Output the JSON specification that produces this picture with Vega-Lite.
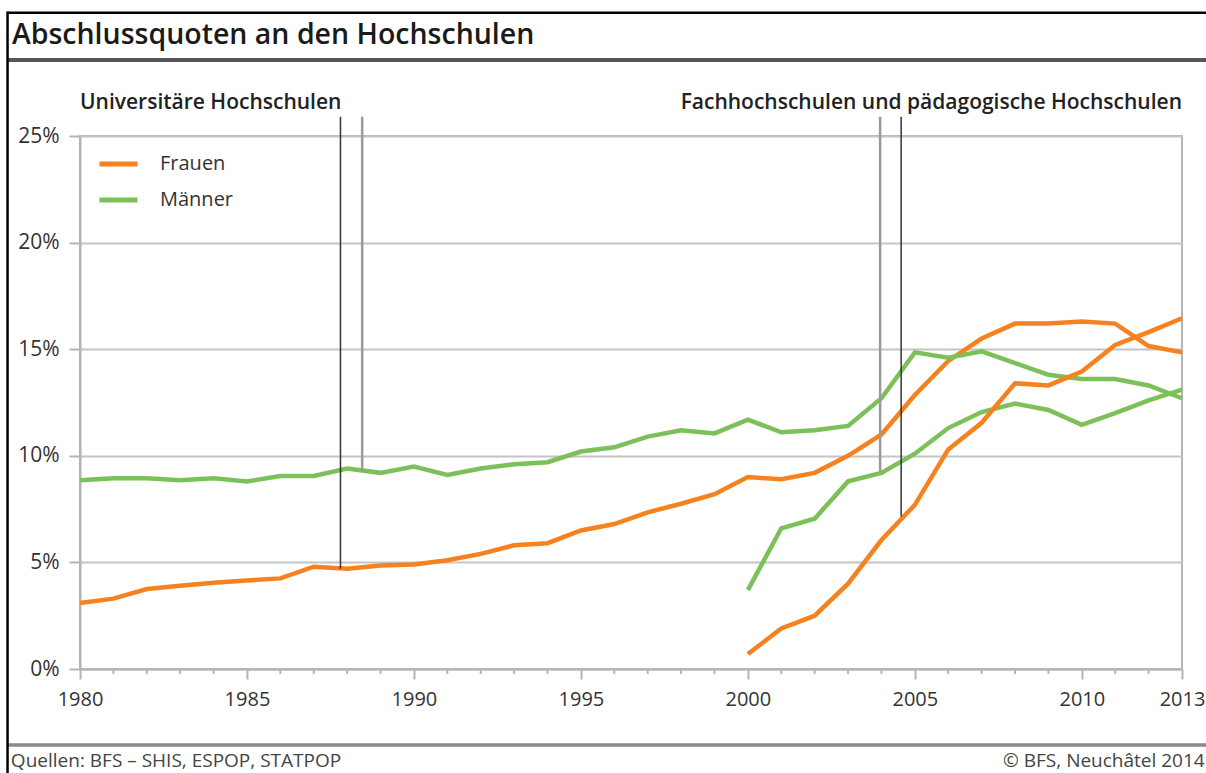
{
  "$schema": "https://vega.github.io/schema/vega-lite/v6.json",
  "autosize": "none",
  "width": 1102,
  "height": 533,
  "padding": {"left": 80, "top": 136, "right": 24, "bottom": 104},
  "background": "white",
  "config": {
    "font": "Open Sans",
    "view": {"stroke": "#b4b4b4", "strokeWidth": 2}
  },
  "datasets": {
    "series": [
      {"year": 1980, "value": 3.1, "sex": "Frauen", "type": "Uni"},
      {"year": 1981, "value": 3.3, "sex": "Frauen", "type": "Uni"},
      {"year": 1982, "value": 3.75, "sex": "Frauen", "type": "Uni"},
      {"year": 1983, "value": 3.9, "sex": "Frauen", "type": "Uni"},
      {"year": 1984, "value": 4.05, "sex": "Frauen", "type": "Uni"},
      {"year": 1985, "value": 4.15, "sex": "Frauen", "type": "Uni"},
      {"year": 1986, "value": 4.25, "sex": "Frauen", "type": "Uni"},
      {"year": 1987, "value": 4.8, "sex": "Frauen", "type": "Uni"},
      {"year": 1988, "value": 4.7, "sex": "Frauen", "type": "Uni"},
      {"year": 1989, "value": 4.85, "sex": "Frauen", "type": "Uni"},
      {"year": 1990, "value": 4.9, "sex": "Frauen", "type": "Uni"},
      {"year": 1991, "value": 5.1, "sex": "Frauen", "type": "Uni"},
      {"year": 1992, "value": 5.4, "sex": "Frauen", "type": "Uni"},
      {"year": 1993, "value": 5.8, "sex": "Frauen", "type": "Uni"},
      {"year": 1994, "value": 5.9, "sex": "Frauen", "type": "Uni"},
      {"year": 1995, "value": 6.5, "sex": "Frauen", "type": "Uni"},
      {"year": 1996, "value": 6.8, "sex": "Frauen", "type": "Uni"},
      {"year": 1997, "value": 7.35, "sex": "Frauen", "type": "Uni"},
      {"year": 1998, "value": 7.75, "sex": "Frauen", "type": "Uni"},
      {"year": 1999, "value": 8.2, "sex": "Frauen", "type": "Uni"},
      {"year": 2000, "value": 9.0, "sex": "Frauen", "type": "Uni"},
      {"year": 2001, "value": 8.9, "sex": "Frauen", "type": "Uni"},
      {"year": 2002, "value": 9.2, "sex": "Frauen", "type": "Uni"},
      {"year": 2003, "value": 10.0, "sex": "Frauen", "type": "Uni"},
      {"year": 2004, "value": 11.0, "sex": "Frauen", "type": "Uni"},
      {"year": 2005, "value": 12.85, "sex": "Frauen", "type": "Uni"},
      {"year": 2006, "value": 14.45, "sex": "Frauen", "type": "Uni"},
      {"year": 2007, "value": 15.5, "sex": "Frauen", "type": "Uni"},
      {"year": 2008, "value": 16.2, "sex": "Frauen", "type": "Uni"},
      {"year": 2009, "value": 16.2, "sex": "Frauen", "type": "Uni"},
      {"year": 2010, "value": 16.3, "sex": "Frauen", "type": "Uni"},
      {"year": 2011, "value": 16.2, "sex": "Frauen", "type": "Uni"},
      {"year": 2012, "value": 15.15, "sex": "Frauen", "type": "Uni"},
      {"year": 2013, "value": 14.85, "sex": "Frauen", "type": "Uni"},
      {"year": 1980, "value": 8.85, "sex": "Männer", "type": "Uni"},
      {"year": 1981, "value": 8.95, "sex": "Männer", "type": "Uni"},
      {"year": 1982, "value": 8.95, "sex": "Männer", "type": "Uni"},
      {"year": 1983, "value": 8.85, "sex": "Männer", "type": "Uni"},
      {"year": 1984, "value": 8.95, "sex": "Männer", "type": "Uni"},
      {"year": 1985, "value": 8.8, "sex": "Männer", "type": "Uni"},
      {"year": 1986, "value": 9.05, "sex": "Männer", "type": "Uni"},
      {"year": 1987, "value": 9.05, "sex": "Männer", "type": "Uni"},
      {"year": 1988, "value": 9.4, "sex": "Männer", "type": "Uni"},
      {"year": 1989, "value": 9.2, "sex": "Männer", "type": "Uni"},
      {"year": 1990, "value": 9.5, "sex": "Männer", "type": "Uni"},
      {"year": 1991, "value": 9.1, "sex": "Männer", "type": "Uni"},
      {"year": 1992, "value": 9.4, "sex": "Männer", "type": "Uni"},
      {"year": 1993, "value": 9.6, "sex": "Männer", "type": "Uni"},
      {"year": 1994, "value": 9.7, "sex": "Männer", "type": "Uni"},
      {"year": 1995, "value": 10.2, "sex": "Männer", "type": "Uni"},
      {"year": 1996, "value": 10.4, "sex": "Männer", "type": "Uni"},
      {"year": 1997, "value": 10.9, "sex": "Männer", "type": "Uni"},
      {"year": 1998, "value": 11.2, "sex": "Männer", "type": "Uni"},
      {"year": 1999, "value": 11.05, "sex": "Männer", "type": "Uni"},
      {"year": 2000, "value": 11.7, "sex": "Männer", "type": "Uni"},
      {"year": 2001, "value": 11.1, "sex": "Männer", "type": "Uni"},
      {"year": 2002, "value": 11.2, "sex": "Männer", "type": "Uni"},
      {"year": 2003, "value": 11.4, "sex": "Männer", "type": "Uni"},
      {"year": 2004, "value": 12.7, "sex": "Männer", "type": "Uni"},
      {"year": 2005, "value": 14.85, "sex": "Männer", "type": "Uni"},
      {"year": 2006, "value": 14.6, "sex": "Männer", "type": "Uni"},
      {"year": 2007, "value": 14.9, "sex": "Männer", "type": "Uni"},
      {"year": 2008, "value": 14.35, "sex": "Männer", "type": "Uni"},
      {"year": 2009, "value": 13.8, "sex": "Männer", "type": "Uni"},
      {"year": 2010, "value": 13.6, "sex": "Männer", "type": "Uni"},
      {"year": 2011, "value": 13.6, "sex": "Männer", "type": "Uni"},
      {"year": 2012, "value": 13.3, "sex": "Männer", "type": "Uni"},
      {"year": 2013, "value": 12.7, "sex": "Männer", "type": "Uni"},
      {"year": 2000, "value": 3.7, "sex": "Männer", "type": "FH"},
      {"year": 2001, "value": 6.6, "sex": "Männer", "type": "FH"},
      {"year": 2002, "value": 7.05, "sex": "Männer", "type": "FH"},
      {"year": 2003, "value": 8.8, "sex": "Männer", "type": "FH"},
      {"year": 2004, "value": 9.2, "sex": "Männer", "type": "FH"},
      {"year": 2005, "value": 10.1, "sex": "Männer", "type": "FH"},
      {"year": 2006, "value": 11.3, "sex": "Männer", "type": "FH"},
      {"year": 2007, "value": 12.05, "sex": "Männer", "type": "FH"},
      {"year": 2008, "value": 12.45, "sex": "Männer", "type": "FH"},
      {"year": 2009, "value": 12.15, "sex": "Männer", "type": "FH"},
      {"year": 2010, "value": 11.45, "sex": "Männer", "type": "FH"},
      {"year": 2011, "value": 12.0, "sex": "Männer", "type": "FH"},
      {"year": 2012, "value": 12.6, "sex": "Männer", "type": "FH"},
      {"year": 2013, "value": 13.1, "sex": "Männer", "type": "FH"},
      {"year": 2000, "value": 0.7, "sex": "Frauen", "type": "FH"},
      {"year": 2001, "value": 1.9, "sex": "Frauen", "type": "FH"},
      {"year": 2002, "value": 2.5, "sex": "Frauen", "type": "FH"},
      {"year": 2003, "value": 4.0, "sex": "Frauen", "type": "FH"},
      {"year": 2004, "value": 6.05, "sex": "Frauen", "type": "FH"},
      {"year": 2005, "value": 7.7, "sex": "Frauen", "type": "FH"},
      {"year": 2006, "value": 10.3, "sex": "Frauen", "type": "FH"},
      {"year": 2007, "value": 11.55, "sex": "Frauen", "type": "FH"},
      {"year": 2008, "value": 13.4, "sex": "Frauen", "type": "FH"},
      {"year": 2009, "value": 13.3, "sex": "Frauen", "type": "FH"},
      {"year": 2010, "value": 13.95, "sex": "Frauen", "type": "FH"},
      {"year": 2011, "value": 15.2, "sex": "Frauen", "type": "FH"},
      {"year": 2012, "value": 15.8, "sex": "Frauen", "type": "FH"},
      {"year": 2013, "value": 16.45, "sex": "Frauen", "type": "FH"}
    ],
    "years": [
      {"year": 1981}, {"year": 1982}, {"year": 1983}, {"year": 1984},
      {"year": 1986}, {"year": 1987}, {"year": 1988}, {"year": 1989},
      {"year": 1991}, {"year": 1992}, {"year": 1993}, {"year": 1994},
      {"year": 1996}, {"year": 1997}, {"year": 1998}, {"year": 1999},
      {"year": 2001}, {"year": 2002}, {"year": 2003}, {"year": 2004},
      {"year": 2006}, {"year": 2007}, {"year": 2008}, {"year": 2009},
      {"year": 2011}, {"year": 2012}
    ],
    "leaders": [
      {"x": 1987.8, "from": 4.7, "to": 25.9, "kind": "dark"},
      {"x": 1988.45, "from": 9.25, "to": 25.9, "kind": "light"},
      {"x": 2003.96, "from": 9.25, "to": 25.9, "kind": "light"},
      {"x": 2004.59, "from": 7.15, "to": 25.9, "kind": "dark"}
    ]
  },
  "layer": [
    {
      "data": {"name": "series"},
      "mark": {"type": "line", "strokeWidth": 4.5, "strokeJoin": "miter", "clip": false},
      "encoding": {
        "x": {
          "field": "year", "type": "quantitative",
          "scale": {"domain": [1980, 2013], "nice": false, "zero": false},
          "axis": {
            "title": null,
            "values": [1980, 1985, 1990, 1995, 2000, 2005, 2010, 2013],
            "format": "d",
            "tickSize": 10,
            "labelOverlap": false,
            "labelFlush": false,
            "grid": false,
            "labelPadding": 10,
            "labelFontSize": 20,
            "labelColor": "#333333",
            "labelFont": "Open Sans",
            "domainColor": "#b4b4b4",
            "domainWidth": 2,
            "tickColor": "#b4b4b4",
            "tickWidth": 2
          }
        },
        "y": {
          "field": "value", "type": "quantitative",
          "scale": {"domain": [0, 25], "nice": false},
          "axis": {
            "title": null,
            "values": [0, 5, 10, 15, 20, 25],
            "labelExpr": "datum.value + '%'",
            "grid": true,
            "gridColor": "#c4c4c4",
            "gridWidth": 2,
            "tickSize": 11,
            "labelPadding": 10,
            "labelFontSize": 21,
            "labelColor": "#333333",
            "labelFont": "Open Sans",
            "domainColor": "#b4b4b4",
            "domainWidth": 2,
            "tickColor": "#b4b4b4",
            "tickWidth": 2
          }
        },
        "color": {
          "field": "sex", "type": "nominal",
          "scale": {"domain": ["Frauen", "Männer"], "range": ["#f5821f", "#7cc05a"]},
          "legend": {
            "title": null,
            "orient": "none",
            "legendX": 17,
            "legendY": 18,
            "symbolType": "stroke",
            "symbolStrokeWidth": 5,
            "symbolSize": 1444,
            "clipHeight": 20,
            "rowPadding": 16,
            "padding": 0,
            "labelFontSize": 20,
            "labelColor": "#333333",
            "labelFont": "Open Sans",
            "labelOffset": 20
          }
        },
        "detail": {"field": "type", "type": "nominal"}
      }
    },
    {
      "data": {"name": "years"},
      "mark": {"type": "tick", "orient": "vertical", "size": 5, "thickness": 2, "color": "#b4b4b4", "opacity": 1},
      "encoding": {
        "x": {"field": "year", "type": "quantitative", "scale": {"domain": [1980, 2013], "nice": false, "zero": false}},
        "y": {"datum": -0.12, "type": "quantitative", "scale": {"domain": [0, 25], "nice": false}}
      }
    },
    {
      "data": {"name": "leaders"},
      "transform": [{"filter": "datum.kind === 'light'"}],
      "mark": {"type": "rule", "color": "#9a9a9a", "strokeWidth": 2.5},
      "encoding": {
        "x": {"field": "x", "type": "quantitative", "scale": {"domain": [1980, 2013], "nice": false, "zero": false}},
        "y": {"field": "from", "type": "quantitative", "scale": {"domain": [0, 25], "nice": false}},
        "y2": {"field": "to"}
      }
    },
    {
      "data": {"name": "leaders"},
      "transform": [{"filter": "datum.kind === 'dark'"}],
      "mark": {"type": "rule", "color": "#333333", "strokeWidth": 1.5},
      "encoding": {
        "x": {"field": "x", "type": "quantitative", "scale": {"domain": [1980, 2013], "nice": false, "zero": false}},
        "y": {"field": "from", "type": "quantitative", "scale": {"domain": [0, 25], "nice": false}},
        "y2": {"field": "to"}
      }
    },
    {
      "data": {"values": [{}]},
      "mark": {"type": "text", "align": "left", "baseline": "alphabetic", "font": "Open Sans", "fontWeight": 600, "fontSize": 21, "color": "#222222"},
      "encoding": {
        "x": {"datum": 1980, "type": "quantitative", "scale": {"domain": [1980, 2013], "nice": false, "zero": false}},
        "y": {"datum": 26.25, "type": "quantitative", "scale": {"domain": [0, 25], "nice": false}},
        "text": {"value": "Universitäre Hochschulen"}
      }
    },
    {
      "data": {"values": [{}]},
      "mark": {"type": "text", "align": "right", "baseline": "alphabetic", "font": "Open Sans", "fontWeight": 600, "fontSize": 21, "color": "#222222"},
      "encoding": {
        "x": {"datum": 2013, "type": "quantitative", "scale": {"domain": [1980, 2013], "nice": false, "zero": false}},
        "y": {"datum": 26.25, "type": "quantitative", "scale": {"domain": [0, 25], "nice": false}},
        "text": {"value": "Fachhochschulen und pädagogische Hochschulen"}
      }
    },
    {
      "data": {"values": [{}]},
      "mark": {"type": "text", "align": "left", "baseline": "alphabetic", "font": "Open Sans", "fontWeight": 600, "fontSize": 28.5, "color": "#1a1a1a"},
      "encoding": {
        "x": {"datum": 1977.96, "type": "quantitative", "scale": {"domain": [1980, 2013], "nice": false, "zero": false}},
        "y": {"datum": 29.3, "type": "quantitative", "scale": {"domain": [0, 25], "nice": false}},
        "text": {"value": "Abschlussquoten an den Hochschulen"}
      }
    },
    {
      "data": {"values": [{}]},
      "mark": {"type": "text", "align": "left", "baseline": "alphabetic", "font": "Open Sans", "fontSize": 19, "color": "#444444"},
      "encoding": {
        "x": {"datum": 1977.93, "type": "quantitative", "scale": {"domain": [1980, 2013], "nice": false, "zero": false}},
        "y": {"datum": -4.6, "type": "quantitative", "scale": {"domain": [0, 25], "nice": false}},
        "text": {"value": "Quellen: BFS – SHIS, ESPOP, STATPOP"}
      }
    },
    {
      "data": {"values": [{}]},
      "mark": {"type": "text", "align": "right", "baseline": "alphabetic", "font": "Open Sans", "fontSize": 19, "color": "#444444"},
      "encoding": {
        "x": {"datum": 2013.68, "type": "quantitative", "scale": {"domain": [1980, 2013], "nice": false, "zero": false}},
        "y": {"datum": -4.6, "type": "quantitative", "scale": {"domain": [0, 25], "nice": false}},
        "text": {"value": "© BFS, Neuchâtel 2014"}
      }
    },
    {
      "data": {"values": [{}]},
      "mark": {"type": "rule", "color": "#555555", "strokeWidth": 4},
      "encoding": {
        "x": {"datum": 1977.83, "type": "quantitative", "scale": {"domain": [1980, 2013], "nice": false, "zero": false}},
        "x2": {"datum": 2014.0},
        "y": {"datum": 28.56, "type": "quantitative", "scale": {"domain": [0, 25], "nice": false}}
      }
    },
    {
      "data": {"values": [{}]},
      "mark": {"type": "rule", "color": "#8a8a8a", "strokeWidth": 3.5},
      "encoding": {
        "x": {"datum": 1977.83, "type": "quantitative", "scale": {"domain": [1980, 2013], "nice": false, "zero": false}},
        "x2": {"datum": 2014.0},
        "y": {"datum": -3.565, "type": "quantitative", "scale": {"domain": [0, 25], "nice": false}}
      }
    },
    {
      "data": {"values": [{}]},
      "mark": {"type": "rule", "color": "#000000", "strokeWidth": 2.5},
      "encoding": {
        "x": {"datum": 1977.83, "type": "quantitative", "scale": {"domain": [1980, 2013], "nice": false, "zero": false}},
        "x2": {"datum": 2014.0},
        "y": {"datum": 30.78, "type": "quantitative", "scale": {"domain": [0, 25], "nice": false}}
      }
    },
    {
      "data": {"values": [{}]},
      "mark": {"type": "rule", "color": "#000000", "strokeWidth": 2.5},
      "encoding": {
        "x": {"datum": 1977.83, "type": "quantitative", "scale": {"domain": [1980, 2013], "nice": false, "zero": false}},
        "y": {"datum": 30.84, "type": "quantitative", "scale": {"domain": [0, 25], "nice": false}},
        "y2": {"datum": -5.5}
      }
    }
  ]
}
